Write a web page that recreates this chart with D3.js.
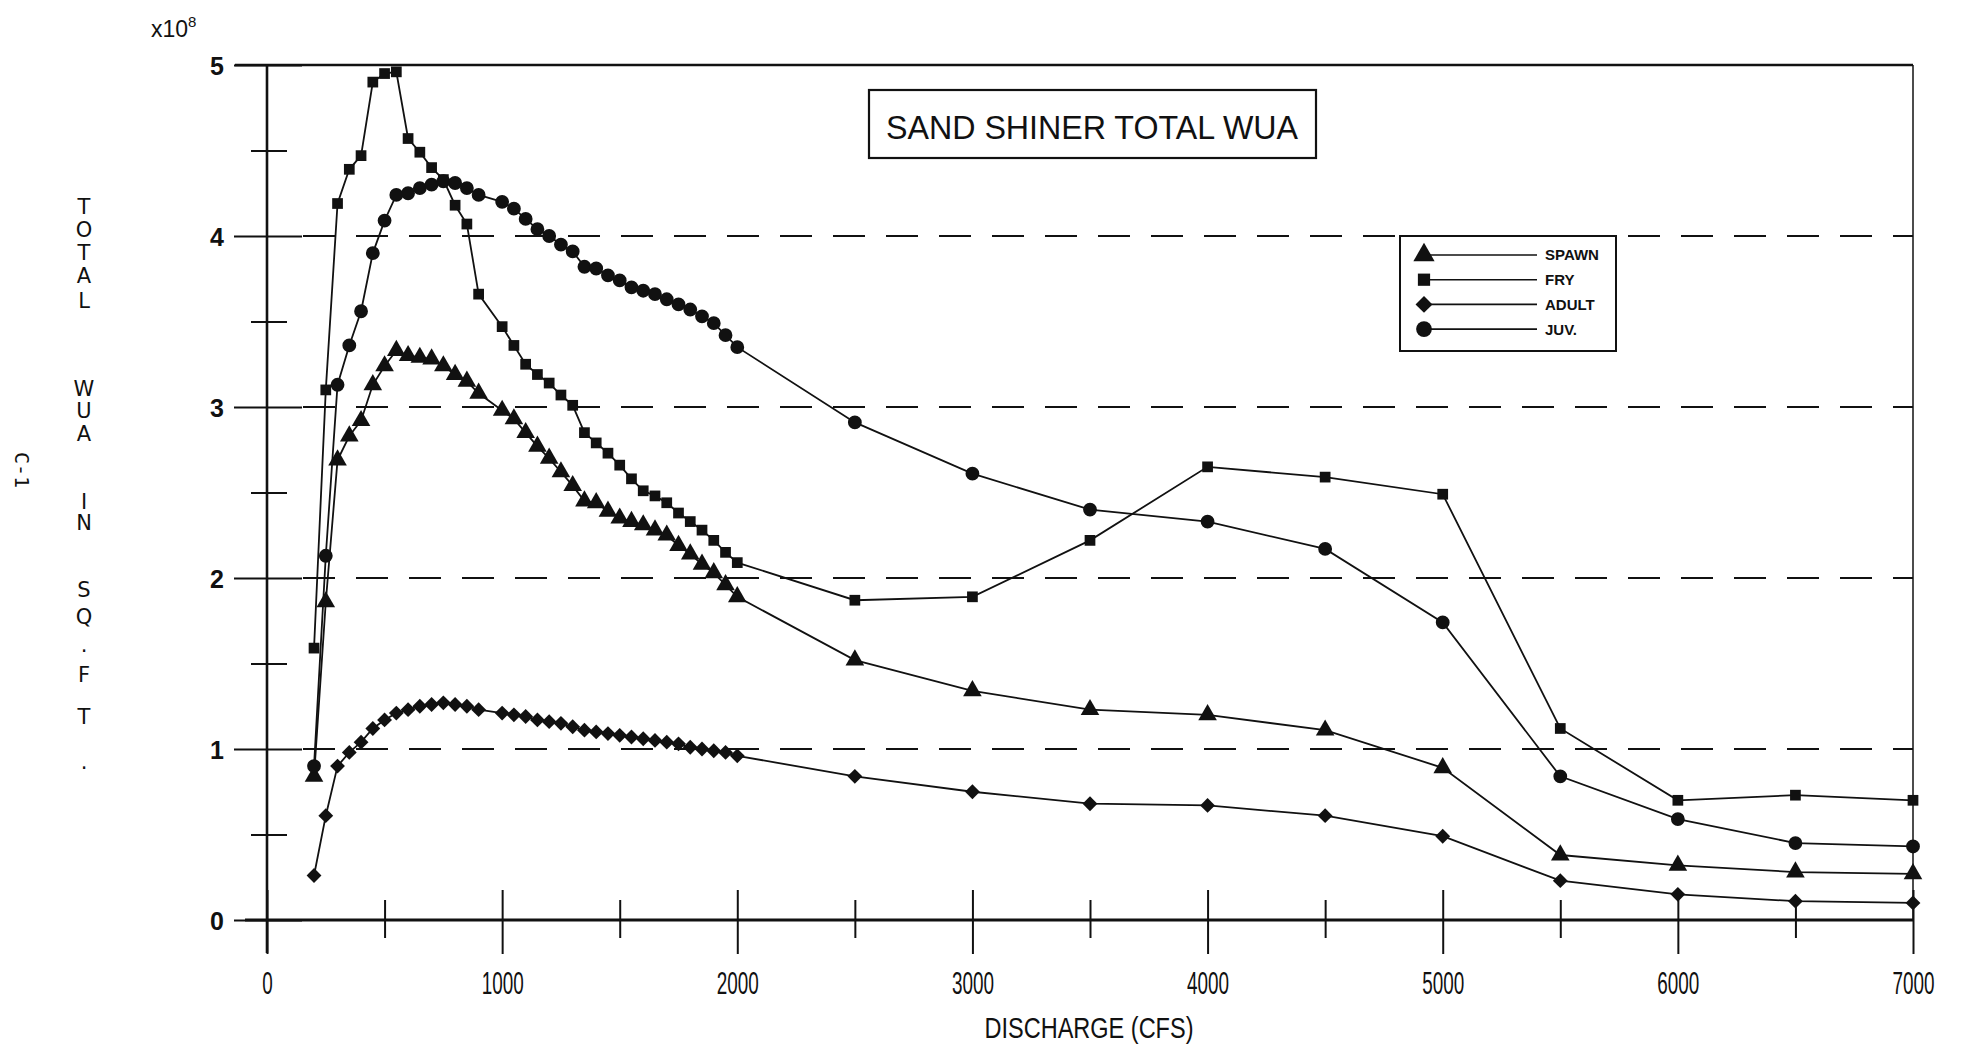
<!DOCTYPE html>
<html>
<head>
<meta charset="utf-8">
<script src="https://cdn.jsdelivr.net/npm/d3@7"></script>
<style>
  body { margin: 0; background: #fff; }
  svg { display: block; }
  text { fill: #111; }
</style>
</head>
<body>
<svg width="1967" height="1047"></svg>
<script>
// discharge (cfs) - note 950 is missing in the source table
const flows = [200, 250, 300, 350, 400, 450, 500, 550, 600, 650, 700, 750, 800, 850, 900,
  1000, 1050, 1100, 1150, 1200, 1250, 1300, 1350, 1400, 1450, 1500, 1550, 1600, 1650, 1700,
  1750, 1800, 1850, 1900, 1950, 2000,
  2500, 3000, 3500, 4000, 4500, 5000, 5500, 6000, 6500, 7000];

// total WUA, x10^8 sq.ft.
const spawn = [0.84, 1.86, 2.69, 2.83, 2.92, 3.13, 3.24, 3.33, 3.30, 3.29, 3.28, 3.24, 3.19, 3.15, 3.08,
  2.98, 2.93, 2.85, 2.77, 2.70, 2.62, 2.54, 2.45, 2.44, 2.39, 2.35, 2.33, 2.31, 2.28, 2.25,
  2.19, 2.14, 2.08, 2.03, 1.96, 1.89,
  1.52, 1.34, 1.23, 1.20, 1.11, 0.89, 0.38, 0.32, 0.28, 0.27];

const fry = [1.59, 3.10, 4.19, 4.39, 4.47, 4.90, 4.95, 4.96, 4.57, 4.49, 4.40, 4.33, 4.18, 4.07, 3.66,
  3.47, 3.36, 3.25, 3.19, 3.14, 3.07, 3.01, 2.85, 2.79, 2.73, 2.66, 2.58, 2.51, 2.48, 2.44,
  2.38, 2.33, 2.28, 2.22, 2.15, 2.09,
  1.87, 1.89, 2.22, 2.65, 2.59, 2.49, 1.12, 0.70, 0.73, 0.70];

const adult = [0.26, 0.61, 0.90, 0.98, 1.04, 1.12, 1.17, 1.21, 1.23, 1.25, 1.26, 1.27, 1.26, 1.25, 1.23,
  1.21, 1.20, 1.19, 1.17, 1.16, 1.15, 1.13, 1.11, 1.10, 1.09, 1.08, 1.07, 1.06, 1.05, 1.04,
  1.03, 1.01, 1.00, 0.99, 0.98, 0.96,
  0.84, 0.75, 0.68, 0.67, 0.61, 0.49, 0.23, 0.15, 0.11, 0.10];

const juv = [0.90, 2.13, 3.13, 3.36, 3.56, 3.90, 4.09, 4.24, 4.25, 4.28, 4.30, 4.32, 4.31, 4.28, 4.24,
  4.20, 4.16, 4.10, 4.04, 4.00, 3.95, 3.91, 3.82, 3.81, 3.77, 3.74, 3.70, 3.68, 3.66, 3.63,
  3.60, 3.57, 3.53, 3.49, 3.42, 3.35,
  2.91, 2.61, 2.40, 2.33, 2.17, 1.74, 0.84, 0.59, 0.45, 0.43];

const xTicks = d3.range(0, 7001, 500);
const yTicks = d3.range(0, 5.01, 0.5);
const gridValues = [1, 2, 3, 4];
// stacked y title letters and their offsets down the page
const yTitleChars = ["T", "O", "T", "A", "L", "W", "U", "A", "I", "N", "S", "Q", ".", "F", "T", "."];
const yTitleOffsets = [0, 23, 46, 69, 94, 182, 204, 227, 295, 316, 383, 410, 438, 468, 510, 555];

const series = [
  { name: "SPAWN", values: spawn, symbol: d3.symbolTriangle, size: 150, rot: 0 },
  { name: "FRY", values: fry, symbol: d3.symbolSquare, size: 115, rot: 0 },
  { name: "ADULT", values: adult, symbol: d3.symbolSquare, size: 110, rot: 45 },
  { name: "JUV.", values: juv, symbol: d3.symbolCircle, size: 150, rot: 0 }
];

const narrow = "'Liberation Sans Narrow', 'Liberation Sans', Arial, sans-serif";

const x = d3.scaleLinear().domain([0, 7000]).range([267, 1913]);
const y = d3.scaleLinear().domain([0, 5]).range([920, 65]);

const svg = d3.select("svg");

// dashed grid
svg.append("g")
  .selectAll("line")
  .data(gridValues)
  .enter()
  .append("line")
  .attr("x1", x(0) + 36)
  .attr("x2", x(7000))
  .attr("y1", d => y(d))
  .attr("y2", d => y(d))
  .attr("stroke", "#111")
  .attr("stroke-width", 2.2)
  .attr("stroke-dasharray", "32,21");

// frame top + right
svg.append("line")
  .attr("x1", x(0) - 32).attr("x2", x(7000))
  .attr("y1", y(5)).attr("y2", y(5))
  .attr("stroke", "#111").attr("stroke-width", 2.5);
svg.append("line")
  .attr("x1", x(7000)).attr("x2", x(7000))
  .attr("y1", y(5)).attr("y2", y(0))
  .attr("stroke", "#111").attr("stroke-width", 1.5);

// x axis
const xAxis = svg.append("g")
  .attr("transform", `translate(0,${y(0)})`)
  .call(d3.axisBottom(x).tickValues(xTicks).tickSize(0)
    .tickFormat(d => d % 1000 === 0 ? d : ""));
xAxis.select(".domain").remove();
xAxis.selectAll(".tick line")
  .attr("y1", d => d % 1000 === 0 ? -30 : -20)
  .attr("y2", d => d % 1000 === 0 ? 34 : 18)
  .attr("stroke", "#111")
  .attr("stroke-width", 2);
xAxis.selectAll(".tick text")
  .attr("y", 74)
  .attr("dy", 0)
  .attr("textLength", d => String(d).length * 10.5)
  .attr("lengthAdjust", "spacingAndGlyphs")
  .style("font-family", narrow)
  .style("font-size", "31px")
  .style("fill", "#111");
xAxis.append("line")
  .attr("x1", x(0) - 22).attr("x2", x(7000))
  .attr("stroke", "#111").attr("stroke-width", 3.2);

// y axis
const yAxis = svg.append("g")
  .attr("transform", `translate(${x(0)},0)`)
  .call(d3.axisLeft(y).tickValues(yTicks).tickSize(0)
    .tickFormat(d => Number.isInteger(d) ? d : ""));
yAxis.select(".domain").remove();
yAxis.selectAll(".tick line")
  .attr("x1", d => Number.isInteger(d) ? -33 : -16)
  .attr("x2", d => Number.isInteger(d) ? 35 : 20)
  .attr("stroke", "#111")
  .attr("stroke-width", 2.2);
yAxis.selectAll(".tick text")
  .attr("x", -50)
  .attr("dy", "0.36em")
  .style("text-anchor", "middle")
  .style("font-family", "'Liberation Sans', Arial, sans-serif")
  .style("font-weight", "bold")
  .style("font-size", "25px")
  .style("fill", "#111");
yAxis.append("line")
  .attr("y1", y(5)).attr("y2", y(0) + 33)
  .attr("stroke", "#111").attr("stroke-width", 2.6);

// x10^8
const mult = svg.append("text")
  .attr("x", 151).attr("y", 37)
  .style("font-family", "'Liberation Sans', Arial, sans-serif")
  .style("font-size", "23px");
mult.append("tspan").text("x10");
mult.append("tspan").attr("dy", -10).style("font-size", "15px").text("8");

// y title, upright stacked letters
svg.append("g")
  .selectAll("text")
  .data(yTitleChars)
  .enter()
  .append("text")
  .attr("x", 84)
  .attr("y", (d, i) => 214 + yTitleOffsets[i])
  .style("text-anchor", "middle")
  .style("font-family", "'DejaVu Sans', sans-serif")
  .style("font-size", "21px")
  .text(d => d);

svg.append("text")
  .attr("transform", "translate(15,470) rotate(90)")
  .style("text-anchor", "middle")
  .style("font-family", "'DejaVu Sans Mono', monospace")
  .style("font-size", "20px")
  .text("C-1");

svg.append("text")
  .attr("x", 1089).attr("y", 1038)
  .attr("textLength", 209)
  .attr("lengthAdjust", "spacingAndGlyphs")
  .style("text-anchor", "middle")
  .style("font-family", narrow)
  .style("font-size", "29px")
  .text("DISCHARGE (CFS)");

// title box
svg.append("rect")
  .attr("x", 869).attr("y", 90)
  .attr("width", 447).attr("height", 68)
  .attr("fill", "#fff")
  .attr("stroke", "#111").attr("stroke-width", 2.2);
svg.append("text")
  .attr("x", 1092).attr("y", 139)
  .attr("textLength", 412)
  .attr("lengthAdjust", "spacingAndGlyphs")
  .style("text-anchor", "middle")
  .style("font-family", narrow)
  .style("font-size", "34px")
  .text("SAND SHINER TOTAL WUA");

// series
const line = d3.line()
  .x(d => x(d[0]))
  .y(d => y(d[1]));

const plot = svg.append("g");
series.forEach(s => {
  const pts = flows.map((f, i) => [f, s.values[i]]);
  plot.append("path")
    .datum(pts)
    .attr("d", line)
    .attr("fill", "none")
    .attr("stroke", "#111")
    .attr("stroke-width", 1.8);
  plot.append("g")
    .selectAll("path")
    .data(pts)
    .enter()
    .append("path")
    .attr("transform", d => `translate(${x(d[0])},${y(d[1])}) rotate(${s.rot})`)
    .attr("d", d3.symbol().type(s.symbol).size(s.size))
    .attr("fill", "#111");
});

// legend
const legend = svg.append("g").attr("transform", "translate(1400,236)");
legend.append("rect")
  .attr("width", 216).attr("height", 115)
  .attr("fill", "#fff")
  .attr("stroke", "#111").attr("stroke-width", 2);
const item = legend.selectAll(".item")
  .data(series)
  .enter()
  .append("g")
  .attr("class", "item")
  .attr("transform", (d, i) => `translate(0,${19 + i * 24.7})`);
item.append("line")
  .attr("x1", 18).attr("x2", 137)
  .attr("stroke", "#111").attr("stroke-width", 1.6);
item.append("path")
  .attr("transform", d => `translate(24,0) rotate(${d.rot})`)
  .attr("d", d => d3.symbol().type(d.symbol).size(d.size * 1.3)())
  .attr("fill", "#111");
item.append("text")
  .attr("x", 145).attr("dy", "0.36em")
  .style("font-family", narrow)
  .style("font-weight", "bold")
  .style("font-size", "15px")
  .text(d => d.name);
</script>
</body>
</html>
